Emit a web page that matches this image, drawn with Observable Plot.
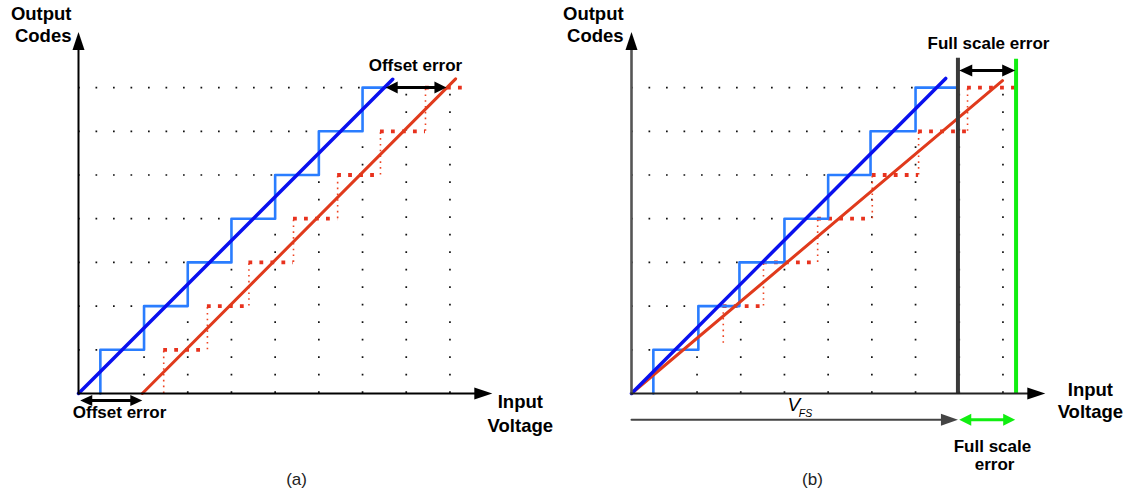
<!DOCTYPE html>
<html><head><meta charset="utf-8">
<script src="https://cdn.jsdelivr.net/npm/d3@7"></script>
<script src="https://cdn.jsdelivr.net/npm/@observablehq/plot@0.6"></script>
<style>
body{margin:0;background:#fff;}
#wrap{display:flex;width:1129px;height:492px;background:#fff;}
#wrap svg{overflow:visible;display:block}
</style></head><body><div id="wrap"></div>
<script>
// ---------- data (x in LSB of input voltage, y in output codes) ----------
const codes = [1, 2, 3, 4, 5, 6, 7];
const gridColumns = [1.5, 2.5, 3.5, 4.5, 5.5, 6.5, 7.5, 8.5];

// Panel (a): offset error
const blueStepsA = [0.5, 1.5, 2.5, 3.5, 4.5, 5.5, 6.5];
const blueEndA = 7.03;
const redStepsA = [1.95, 2.95, 3.9, 4.92, 5.93, 6.91, 7.94];
const redEndA = 8.79;
const idealLineA = [{x: 0, y: 0}, {x: 7.19, y: 7.19}];
const offsetLineA = [{x: 1.46, y: 0}, {x: 8.63, y: 7.2}];
const offsetStart = 1.46;

// Panel (b): full scale (gain) error
const blueStepsB = [0.5, 1.53, 2.47, 3.5, 4.5, 5.47, 6.5];
const blueEndB = 7.46;
const redCodesB = [2, 3, 4, 5, 6, 7];
const redStepsB = [2.1, 3.02, 4.26, 5.51, 6.57, 7.69];
const redEndB = 8.81;
const idealLineB = [{x: 0, y: 0}, {x: 7.19, y: 7.21}];
const gainLineB = [{x: 0, y: 0}, {x: 8.49, y: 7.16}];
const fullScaleX = 7.47;
const actualFullScaleX = 8.8;

// ---------- helpers ----------
const FONT = "'Liberation Sans', Arial, Helvetica, sans-serif";
function head(len, hw) {
  return {draw(ctx) { ctx.moveTo(0, 0); ctx.lineTo(hw, len); ctx.lineTo(-hw, len); ctx.closePath(); }};
}
function stairs(steps, end) {
  const pts = [];
  steps.forEach((x, i) => { pts.push({x, y: i}); pts.push({x, y: i + 1}); });
  pts.push({x: end, y: steps.length});
  return pts;
}
function treads(stepXs, stepCodes, end) {
  return stepXs.map((x, i) => ({code: stepCodes[i], x1: x, x2: i + 1 < stepXs.length ? stepXs[i + 1] : end}));
}
function risers(stepXs, stepCodes) {
  return stepXs.map((x, i) => ({x, y1: stepCodes[i] - 1, y2: stepCodes[i]}));
}
function gridMarks() {
  return [
    Plot.ruleY(codes, {y: d => d, x1: 0, x2: d => d - 0.5, stroke: "#111", strokeWidth: 1.7, strokeDasharray: "1.7,15.8"}),
    Plot.ruleX(gridColumns, {x: d => d, y1: 0, y2: d => Math.min(7, Math.floor(d)), stroke: "#111", strokeWidth: 1.7, strokeDasharray: "1.7,15.8"})
  ];
}
function arrowH(y, x1, x2, color, width, len, hw, both) {
  const gap = len / 43.7 * 0.8;
  const marks = [
    Plot.line([{x: both ? x1 + gap : x1, y}, {x: x2 - gap, y}], {x: "x", y: "y", stroke: color, strokeWidth: width}),
    Plot.dot([{x: x2, y}], {x: "x", y: "y", symbol: head(len, hw), rotate: 90, fill: color, stroke: "none", r: 5})
  ];
  if (both) marks.push(Plot.dot([{x: x1, y}], {x: "x", y: "y", symbol: head(len, hw), rotate: -90, fill: color, stroke: "none", r: 5}));
  return marks;
}
function axes(yColor, yWidth, xColor, xWidth) {
  return [
    Plot.line([{x: 0, y: 0}, {x: 0, y: 7.95}], {x: "x", y: "y", stroke: yColor, strokeWidth: yWidth}),
    Plot.dot([{x: 0, y: 8.27}], {x: "x", y: "y", symbol: head(18, 6), fill: "#000", stroke: "none", r: 5}),
    Plot.line([{x: 0, y: 0}, {x: 9.15, y: 0}], {x: "x", y: "y", stroke: xColor, strokeWidth: xWidth}),
    Plot.dot([{x: 9.47, y: 0}], {x: "x", y: "y", symbol: head(18, 6), rotate: 90, fill: "#000", stroke: "none", r: 5})
  ];
}
function label(items, opts) {
  return Plot.text(items, {x: "x", y: "y", text: "t", lineAnchor: "bottom", fontFamily: FONT, fill: "#000", ...opts});
}
const common = {height: 492, x: {domain: [0, 10], axis: null}, y: {domain: [0, 8], axis: null},
  style: {fontFamily: FONT, background: "#fff", overflow: "visible"}};

// ---------- panel (a) ----------
const redTA = treads(redStepsA, codes, redEndA);
const redRA = risers(redStepsA, codes);
const plotA = Plot.plot({
  ...common, width: 564, marginLeft: 78, marginRight: 49, marginTop: 43.4, marginBottom: 99,
  marks: [
    ...gridMarks(),
    Plot.ruleX(redRA, {x: "x", y1: "y1", y2: "y2", stroke: "#ee4422", strokeWidth: 1.6, strokeDasharray: "1.6,4.2"}),
    Plot.ruleY(redTA, {y: "code", x1: "x1", x2: "x2", stroke: "#e8321e", strokeWidth: 3.8, strokeDasharray: "3.8,7.2"}),
    Plot.line(stairs(blueStepsA, blueEndA), {x: "x", y: "y", stroke: "#2a7dff", strokeWidth: 2.6}),
    Plot.line(offsetLineA, {x: "x", y: "y", stroke: "#e03a1c", strokeWidth: 3}),
    Plot.line(idealLineA, {x: "x", y: "y", stroke: "#0a10ee", strokeWidth: 3.5}),
    ...axes("#000", 2, "#000", 2),
    ...arrowH(7, 7.03, 8.42, "#000", 3, 12, 6, true),
    ...arrowH(-0.16, 0.04, offsetStart, "#000", 3, 12, 5.5, true),
    label([{x: -0.16, y: 8.55, t: "Output"}, {x: -0.16, y: 8.04, t: "Codes"}], {textAnchor: "end", fontSize: 18.5, fontWeight: "bold"}),
    label([{x: 10.11, y: -0.34, t: "Input"}, {x: 10.11, y: -0.87, t: "Voltage"}], {textAnchor: "middle", fontSize: 18.5, fontWeight: "bold"}),
    label([{x: 7.71, y: 7.39, t: "Offset error"}, {x: 0.94, y: -0.57, t: "Offset error"}], {textAnchor: "middle", fontSize: 17, fontWeight: "bold"}),
    label([{x: 4.99, y: -2.1, t: "(a)"}], {textAnchor: "middle", fontSize: 17, fill: "#222"})
  ]
});

// ---------- panel (b) ----------
const redTB = treads(redStepsB, redCodesB, redEndB);
const redRB = risers(redStepsB, redCodesB).map((d, i) => i === 0 ? {...d, y1: d.y1 + 0.15} : d);
const plotB = Plot.plot({
  ...common, width: 565, marginLeft: 67, marginRight: 61, marginTop: 43.4, marginBottom: 99,
  marks: [
    ...gridMarks(),
    Plot.ruleX(redRB, {x: "x", y1: "y1", y2: "y2", stroke: "#ee4422", strokeWidth: 1.6, strokeDasharray: "1.6,4.2"}),
    Plot.ruleY(redTB, {y: "code", x1: "x1", x2: "x2", stroke: "#e8321e", strokeWidth: 3.8, strokeDasharray: "3.8,7.2"}),
    Plot.line(stairs(blueStepsB, blueEndB), {x: "x", y: "y", stroke: "#2a7dff", strokeWidth: 2.6}),
    Plot.line(gainLineB, {x: "x", y: "y", stroke: "#e03a1c", strokeWidth: 3}),
    Plot.line(idealLineB, {x: "x", y: "y", stroke: "#0a10ee", strokeWidth: 3.5}),
    Plot.ruleX([fullScaleX], {x: d => d, y1: 0, y2: 7.67, stroke: "#3a3a3a", strokeWidth: 4}),
    Plot.ruleX([actualFullScaleX], {x: d => d, y1: 0, y2: 7.65, stroke: "#11ee11", strokeWidth: 4}),
    ...axes("#555", 2.6, "#222", 2),
    ...arrowH(7.39, fullScaleX + 0.03, actualFullScaleX - 0.02, "#000", 3, 13, 6, true),
    ...arrowH(-0.6, 0, fullScaleX, "#444", 2, 17, 6, false),
    ...arrowH(-0.6, fullScaleX + 0.03, actualFullScaleX - 0.02, "#11ee11", 3, 12, 6, true),
    label([{x: -0.18, y: 8.54, t: "Output"}, {x: -0.18, y: 8.04, t: "Codes"}], {textAnchor: "end", fontSize: 18.5, fontWeight: "bold"}),
    label([{x: 10.5, y: -0.05, t: "Input"}, {x: 10.5, y: -0.57, t: "Voltage"}], {textAnchor: "middle", fontSize: 18.5, fontWeight: "bold"}),
    label([{x: 8.17, y: 7.89, t: "Full scale error"}], {textAnchor: "middle", fontSize: 17, fontWeight: "bold"}),
    label([{x: 8.26, y: -1.35, t: "Full scale"}, {x: 8.31, y: -1.76, t: "error"}], {textAnchor: "middle", fontSize: 17, fontWeight: "bold"}),
    label([{x: 3.57, y: -0.39, t: "V"}], {textAnchor: "start", fontSize: 19, fontStyle: "italic"}),
    label([{x: 3.83, y: -0.53, t: "FS"}], {textAnchor: "start", fontSize: 10.5, fontStyle: "italic"}),
    label([{x: 4.14, y: -2.1, t: "(b)"}], {textAnchor: "middle", fontSize: 17, fill: "#222"})
  ]
});

const wrap = document.getElementById("wrap");
wrap.appendChild(plotA);
wrap.appendChild(plotB);
</script>
</body></html>
